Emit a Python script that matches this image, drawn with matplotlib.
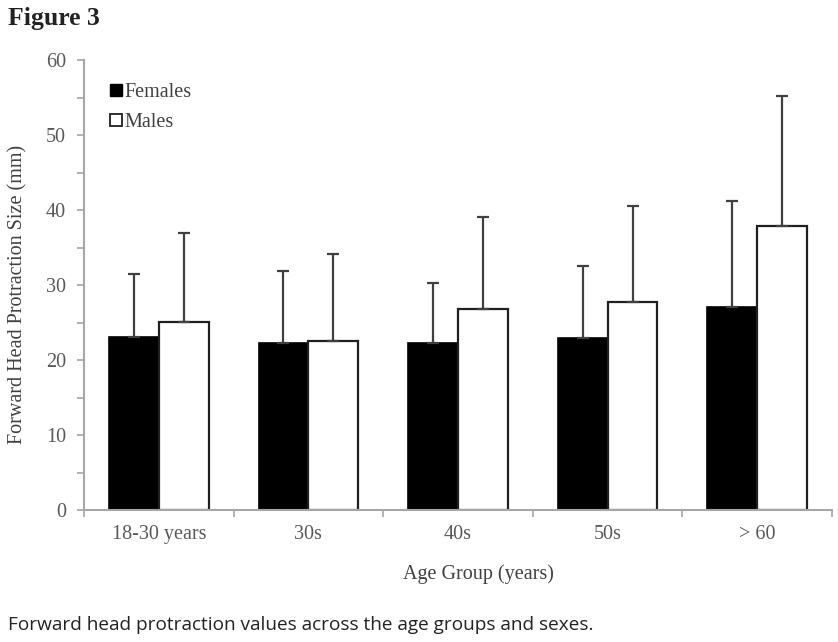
import numpy as np
import matplotlib
matplotlib.use("Agg")
import matplotlib.pyplot as plt
from matplotlib.ticker import MultipleLocator, FixedLocator, NullFormatter
from matplotlib.lines import Line2D

# values (mm)
groups = ["18-30 years", "30s", "40s", "50s", "> 60"]
females_mean = [23.1, 22.3, 22.3, 23.0, 27.1]
females_sd = [8.4, 9.6, 8.0, 9.6, 14.1]
males_mean = [25.1, 22.5, 26.8, 27.8, 37.9]
males_sd = [11.9, 11.6, 12.3, 12.8, 17.3]

serif = "Liberation Serif"
grey_txt = "#595959"
axis_col = "#a6a6a6"
err_col = "#404040"
fs = 14.5

fig = plt.figure(figsize=(8.38, 6.42), dpi=100)
ax = fig.add_axes([84/838, 1-510/642, (832-84)/838, 450/642])

x = np.arange(len(groups))
w = 1/3
ax.bar(x - w/2, females_mean, w, color="black", edgecolor="black", linewidth=1.2,
       yerr=[np.zeros(5), females_sd], error_kw=dict(ecolor=err_col, elinewidth=1.6, capsize=4, capthick=1.6),
       zorder=2)
ax.bar(x + w/2, males_mean, w, color="white", edgecolor="#202020", linewidth=1.6,
       yerr=[np.zeros(5), males_sd], error_kw=dict(ecolor=err_col, elinewidth=1.6, capsize=4, capthick=1.6),
       zorder=2)

ax.set_xlim(-0.5, len(groups) - 0.5)
ax.set_ylim(0, 60)
for s in ["top", "right"]:
    ax.spines[s].set_visible(False)
for s in ["left", "bottom"]:
    ax.spines[s].set_color(axis_col)
    ax.spines[s].set_linewidth(1.5)

ax.yaxis.set_major_locator(MultipleLocator(10))
ax.yaxis.set_minor_locator(MultipleLocator(5))
ax.tick_params(axis="y", which="both", direction="out", length=5, width=1.2, color=axis_col,
               labelsize=fs, labelcolor=grey_txt, pad=8)

ax.xaxis.set_major_locator(FixedLocator(x))
ax.xaxis.set_minor_locator(FixedLocator(np.arange(-0.5, len(groups), 1.0)))
ax.xaxis.set_minor_formatter(NullFormatter())
ax.set_xticklabels(groups)
ax.tick_params(axis="x", which="major", length=0, labelsize=fs, labelcolor=grey_txt, pad=11)
ax.tick_params(axis="x", which="minor", direction="out", length=5, width=1.2, color=axis_col)

for lab in ax.get_xticklabels() + ax.get_yticklabels():
    lab.set_fontfamily(serif)

ax.set_ylabel("Forward Head Protraction Size (mm)", fontsize=fs, family=serif, color=err_col,
              va="center")
ax.yaxis.set_label_coords(-(84-18)/748, (510-294)/450)
ax.set_xlabel("Age Group (years)", fontsize=fs, family=serif, color=err_col)
ax.xaxis.set_label_coords((478-84)/748, -0.12)

handles = [Line2D([], [], marker="s", linestyle="none", markersize=9, markerfacecolor="black",
                  markeredgecolor="black"),
           Line2D([], [], marker="s", linestyle="none", markersize=9, markerfacecolor="white",
                  markeredgecolor="#202020", markeredgewidth=1.3)]
leg = ax.legend(handles, ["Females", "Males"], loc="upper left", bbox_to_anchor=(0.01, 0.99),
                frameon=False, handlelength=0.6, handletextpad=0.15, labelspacing=0.55,
                prop=dict(family=serif, size=fs))
for t in leg.get_texts():
    t.set_color(err_col)

fig.text(8/838, 1-19/642, "Figure 3", fontsize=18.5, fontweight="bold", family=serif,
         color="#222222", va="center", ha="left")
fig.text(8/838, 1-625/642, "Forward head protraction values across the age groups and sexes.",
         fontsize=13.7, family="Open Sans", color="#222222", va="center", ha="left")

fig.savefig("out.png", dpi=100)
